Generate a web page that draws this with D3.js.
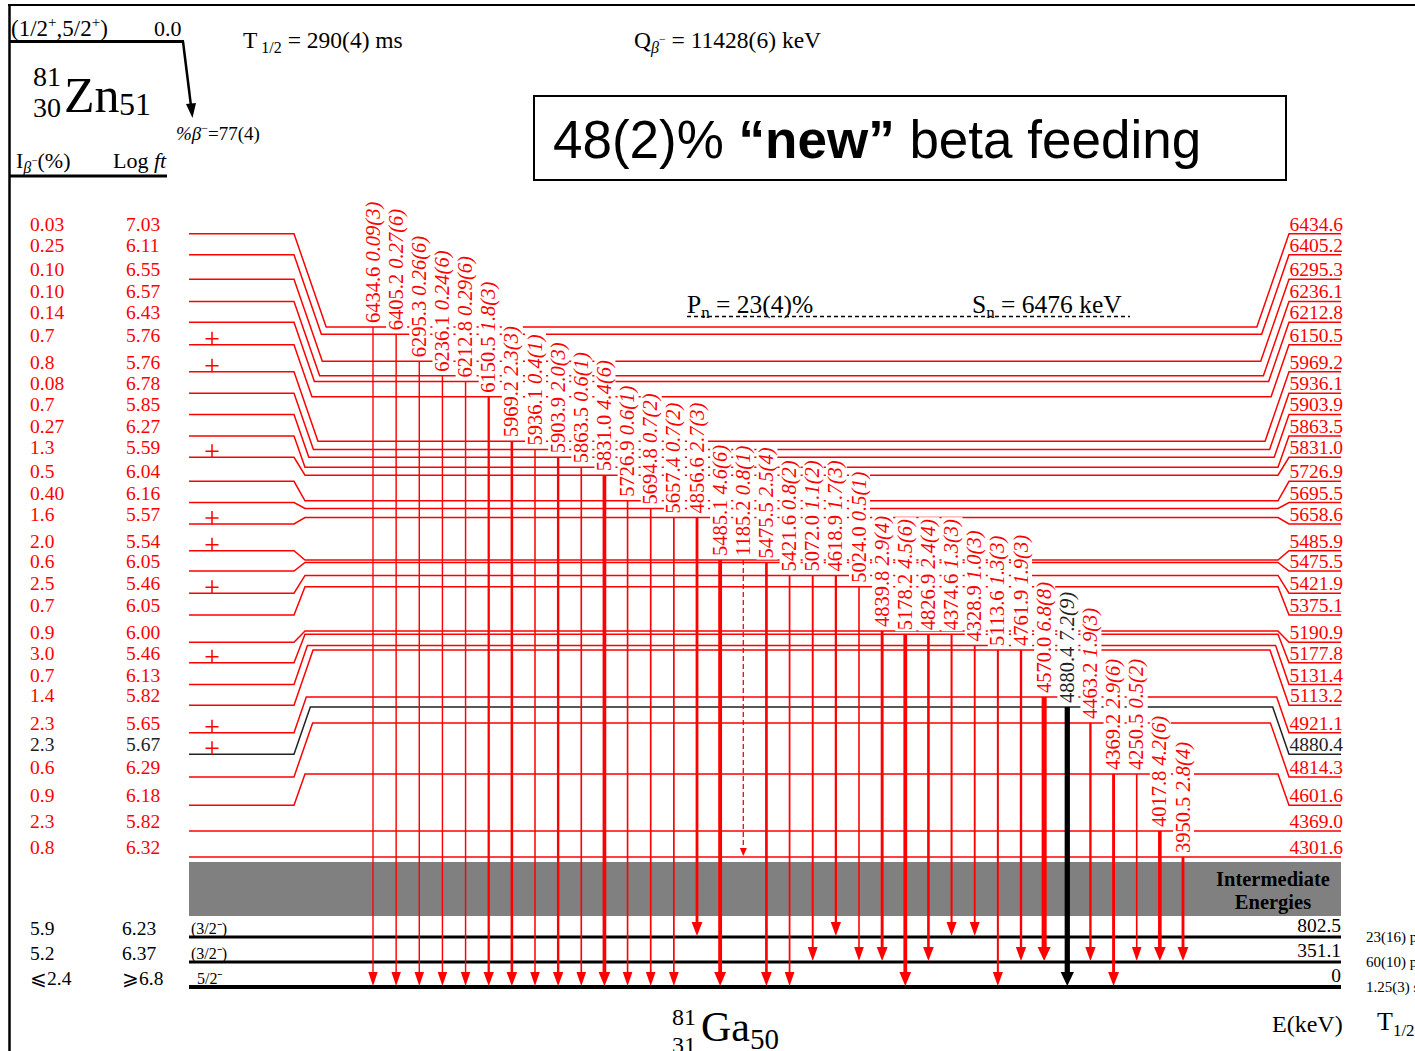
<!DOCTYPE html>
<html>
<head>
<meta charset="utf-8">
<script src="https://cdn.jsdelivr.net/npm/d3@7"></script>
<style>
  body { margin: 0; background: #fff; }
  svg { display: block; font-family: "Liberation Serif", "Times New Roman", serif; }
</style>
</head>
<body>
<script>
// levels fed in 81Ga (keV), top to bottom
const levelE = [6434.6, 6405.2, 6295.3, 6236.1, 6212.8, 6150.5, 5969.2, 5936.1, 5903.9, 5863.5,
  5831.0, 5726.9, 5695.5, 5658.6, 5485.9, 5475.5, 5421.9, 5375.1, 5190.9, 5177.8,
  5131.4, 5113.2, 4921.1, 4880.4, 4814.3, 4601.6, 4369.0, 4301.6];
const iBeta = ['0.03','0.25','0.10','0.10','0.14','0.7','0.8','0.08','0.7','0.27','1.3','0.5','0.40','1.6',
  '2.0','0.6','2.5','0.7','0.9','3.0','0.7','1.4','2.3','2.3','0.6','0.9','2.3','0.8'];
const logFt = ['7.03','6.11','6.55','6.57','6.43','5.76','5.76','6.78','5.85','6.27','5.59','6.04','6.16','5.57',
  '5.54','6.05','5.46','6.05','6.00','5.46','6.13','5.82','5.65','5.67','6.29','6.18','5.82','6.32'];
const plusLevels = [6150.5, 5969.2, 5831.0, 5658.6, 5485.9, 5421.9, 5177.8, 4921.1, 4880.4];
const blackLevel = 4880.4;

const lowE = [802.5, 351.1, 0];
const lowLabel = ['802.5', '351.1', '0'];
const lowSpin = ['(3/2\u207B)', '(3/2\u207B)', '5/2\u207B'];
const lowIBeta = ['5.9', '5.2', '\u2A7D2.4'];
const lowLogFt = ['6.23', '6.37', '\u2A7E6.8'];
const lowHalf = ['23(16) ps', '60(10) ps', '1.25(3) s'];

// gamma transitions, left to right
const gEnergy = ['6434.6','6405.2','6295.3','6236.1','6212.8','6150.5','5969.2','5936.1','5903.9','5863.5',
  '5831.0','5726.9','5694.8','5657.4','4856.6','5485.1','1185.2','5475.5','5421.6','5072.0','4618.9','5024.0',
  '4839.8','5178.2','4826.9','4374.6','4328.9','5113.6','4761.9','4570.0','4880.4','4463.2','4369.2','4250.5',
  '4017.8','3950.5'];
const gInt = ['0.09(3)','0.27(6)','0.26(6)','0.24(6)','0.29(6)','1.8(3)','2.3(3)','0.4(1)','2.0(3)','0.6(1)',
  '4.4(6)','0.6(1)','0.7(2)','0.7(2)','2.7(3)','4.6(6)','0.8(1)','2.5(4)','0.8(2)','1.1(2)','1.7(3)','0.5(1)',
  '2.9(4)','4.5(6)','2.4(4)','1.3(3)','1.0(3)','1.3(3)','1.9(3)','6.8(8)','7.2(9)','1.9(3)','2.9(6)','0.5(2)',
  '4.2(6)','2.8(4)'];
const gFrom = [6434.6,6405.2,6295.3,6236.1,6212.8,6150.5,5969.2,5936.1,5903.9,5863.5,5831.0,5726.9,5695.5,
  5658.6,5658.6,5485.9,5485.9,5475.5,5421.9,5421.9,5421.9,5375.1,5190.9,5177.8,5177.8,5177.8,5131.4,5113.2,
  5113.2,4921.1,4880.4,4814.3,4601.6,4601.6,4369.0,4301.6];
const gTo = [0,0,0,0,0,0,0,0,0,0,0,0,0,0,802.5,0,4301.6,0,0,351.1,802.5,351.1,351.1,0,351.1,802.5,802.5,0,
  351.1,351.1,0,351.1,0,351.1,351.1,351.1];
const gDashed = ['1185.2'];

const W = 1415, H = 1051;
const RED = '#ff0000';
const svg = d3.select('body').append('svg').attr('width', W).attr('height', H);

// energy -> vertical position in the drawing area (not to scale, like the original)
const y = d3.scaleLinear()
  .domain([0, 351.1, 802.5, 4301.6, 4369.0, 4601.6, 4880.4, 5190.9, 5485.9, 6434.6])
  .range([987, 962, 937, 857, 831, 774, 707, 631, 560, 327]);
const xg = d3.scalePoint().domain(d3.range(gEnergy.length)).range([373, 1183]);
// label rows on the sides
const rowY = i => 233.7 + i * 20 + (levelE[0] - levelE[i]) * 0.039;

// frame
svg.append('line').attr('x1', 9.5).attr('y1', 4).attr('x2', 9.5).attr('y2', H)
  .attr('stroke', '#000').attr('stroke-width', 2.5);
svg.append('line').attr('x1', 8).attr('y1', 5).attr('x2', W).attr('y2', 5)
  .attr('stroke', '#000').attr('stroke-width', 2);

// parent
svg.append('line').attr('x1', 10).attr('y1', 41.5).attr('x2', 184).attr('y2', 41.5)
  .attr('stroke', '#000').attr('stroke-width', 3);
svg.append('line').attr('x1', 183).attr('y1', 41.5).attr('x2', 191).attr('y2', 106)
  .attr('stroke', '#000').attr('stroke-width', 2.5);
svg.append('path').attr('d', 'M186,104 L196,103 L192.5,118 Z').attr('fill', '#000');
const t1 = svg.append('text').attr('x', 11).attr('y', 36).attr('font-size', 23);
t1.append('tspan').text('(1/2');
t1.append('tspan').attr('font-size', 15).attr('dy', -9).text('+');
t1.append('tspan').attr('dy', 9).text(',5/2');
t1.append('tspan').attr('font-size', 15).attr('dy', -9).text('+');
t1.append('tspan').attr('dy', 9).text(')');
svg.append('text').attr('x', 154).attr('y', 36).attr('font-size', 22).text('0.0');

svg.append('text').attr('x', 33).attr('y', 86).attr('font-size', 28).text('81');
svg.append('text').attr('x', 33).attr('y', 117).attr('font-size', 28).text('30');
svg.append('text').attr('x', 64).attr('y', 112).attr('font-size', 50).text('Zn');
svg.append('text').attr('x', 119).attr('y', 115).attr('font-size', 32).text('51');

const pb = svg.append('text').attr('x', 176).attr('y', 140).attr('font-size', 19);
pb.append('tspan').attr('font-style', 'italic').text('%\u03B2');
pb.append('tspan').attr('font-size', 12).attr('dy', -8).text('\u2212');
pb.append('tspan').attr('dy', 8).text('=77(4)');

const ib = svg.append('text').attr('x', 16).attr('y', 168).attr('font-size', 22);
ib.append('tspan').text('I');
ib.append('tspan').attr('font-size', 16).attr('dy', 5).attr('font-style', 'italic').text('\u03B2');
ib.append('tspan').attr('font-size', 11).attr('dy', -9).text('\u2212');
ib.append('tspan').attr('dy', 4).text('(%)');
const lf = svg.append('text').attr('x', 113).attr('y', 168).attr('font-size', 22);
lf.append('tspan').text('Log');
lf.append('tspan').attr('font-style', 'italic').text(' ft');
svg.append('line').attr('x1', 10).attr('y1', 176).attr('x2', 167).attr('y2', 176)
  .attr('stroke', '#000').attr('stroke-width', 3);

const th = svg.append('text').attr('x', 243).attr('y', 48).attr('font-size', 23.5);
th.append('tspan').text('T');
th.append('tspan').attr('font-size', 16).attr('dy', 5).text(' 1/2');
th.append('tspan').attr('dy', -5).text(' = 290(4) ms');
const qb = svg.append('text').attr('x', 634).attr('y', 48).attr('font-size', 23.5);
qb.append('tspan').text('Q');
qb.append('tspan').attr('font-size', 16).attr('dy', 5).attr('font-style', 'italic').text('\u03B2');
qb.append('tspan').attr('font-size', 12).attr('dy', -10).text('\u2212');
qb.append('tspan').attr('dy', 5).text('  = 11428(6) keV');

// note box
svg.append('rect').attr('x', 534).attr('y', 96).attr('width', 752).attr('height', 84)
  .attr('fill', 'none').attr('stroke', '#000').attr('stroke-width', 2);
const nb = svg.append('text').attr('x', 553).attr('y', 158).attr('font-size', 53)
  .attr('font-family', '"Liberation Sans", Arial, sans-serif');
nb.append('tspan').text('48(2)% ');
nb.append('tspan').attr('font-weight', 'bold').text('\u201Cnew\u201D');
nb.append('tspan').text(' beta feeding');

// Pn / Sn
svg.append('line').attr('x1', 687).attr('y1', 316.5).attr('x2', 1130).attr('y2', 316.5)
  .attr('stroke', '#000').attr('stroke-width', 1.5).attr('stroke-dasharray', '4,3');
const pn = svg.append('text').attr('x', 687).attr('y', 313).attr('font-size', 25.5);
pn.append('tspan').text('P');
pn.append('tspan').attr('font-size', 17).attr('dy', 5).text('n');
pn.append('tspan').attr('dy', -5).text(' = 23(4)%');
const sn = svg.append('text').attr('x', 972).attr('y', 313).attr('font-size', 25.5);
sn.append('tspan').text('S');
sn.append('tspan').attr('font-size', 17).attr('dy', 5).text('n');
sn.append('tspan').attr('dy', -5).text(' = 6476 keV');

// intermediate energies band
svg.append('rect').attr('x', 189).attr('y', 862).attr('width', 1152).attr('height', 54).attr('fill', '#808080');
svg.append('text').attr('x', 1273).attr('y', 886).attr('text-anchor', 'middle')
  .attr('font-size', 20.5).attr('font-weight', 'bold').text('Intermediate');
svg.append('text').attr('x', 1273).attr('y', 909).attr('text-anchor', 'middle')
  .attr('font-size', 20.5).attr('font-weight', 'bold').text('Energies');

// high levels with bent connectors
levelE.forEach((e, i) => {
  const my = y(e);
  let ly = rowY(i);
  if (Math.abs(my - ly) < 4) ly = my;
  const col = e === blackLevel ? '#222' : RED;
  const dy = my - ly;
  const dx = dy === 0 ? 0 : Math.max(11, Math.abs(dy) / 2.9);
  const d = dx === 0
    ? `M189,${my} H1341`
    : `M189,${ly} H294 L${294 + dx},${my} H${1289 - dx} L1289,${ly} H1341`;
  svg.append('path').attr('d', d).attr('fill', 'none').attr('stroke', col).attr('stroke-width', 1.5);
  svg.append('text').attr('x', 30).attr('y', ly - 3).attr('font-size', 19.5).attr('fill', col).text(iBeta[i]);
  svg.append('text').attr('x', 126).attr('y', ly - 3).attr('font-size', 19.5).attr('fill', col).text(logFt[i]);
  svg.append('text').attr('x', 1343).attr('y', ly - 3).attr('font-size', 19.5).attr('fill', col)
    .attr('text-anchor', 'end').text(e.toFixed(1));
  if (plusLevels.includes(e)) {
    svg.append('path').attr('d', `M205.5,${ly - 6} H218.5 M212,${ly - 13} V${ly + 0.5}`)
      .attr('stroke', RED).attr('stroke-width', 1.5);
  }
});

// low levels
lowE.forEach((e, i) => {
  const ly = y(e);
  svg.append('line').attr('x1', 189).attr('y1', ly).attr('x2', 1341).attr('y2', ly)
    .attr('stroke', '#000').attr('stroke-width', e === 0 ? 4 : 3);
  svg.append('text').attr('x', 1341).attr('y', ly - 5).attr('font-size', 19.5)
    .attr('text-anchor', 'end').text(lowLabel[i]);
  svg.append('text').attr('x', i === 2 ? 197 : 191).attr('y', ly - 3).attr('font-size', 16).text(lowSpin[i]);
  svg.append('text').attr('x', 30).attr('y', ly - 2).attr('font-size', 19.5).text(lowIBeta[i]);
  svg.append('text').attr('x', 122).attr('y', ly - 2).attr('font-size', 19.5).text(lowLogFt[i]);
  svg.append('text').attr('x', 1366).attr('y', ly + 5).attr('font-size', 15).text(lowHalf[i]);
});

// gamma labels (white boxes hide level lines behind them)
gEnergy.forEach((g, i) => {
  const x = xg(i), y0 = y(gFrom[i]);
  const col = gFrom[i] === blackLevel ? '#222' : RED;
  const grp = svg.append('g').attr('transform', `translate(${x + 6.5},${y0 - 4}) rotate(-90)`);
  const box = grp.append('rect').attr('fill', '#fff');
  const t = grp.append('text').attr('x', 0).attr('y', 0).attr('font-size', 20.5).attr('fill', col);
  t.append('tspan').text(g + ' ');
  t.append('tspan').attr('font-style', 'italic').text(gInt[i]);
  const len = t.node().getComputedTextLength();
  box.attr('x', -1).attr('y', -16.5).attr('width', len + 3).attr('height', 21);
});

// gamma arrows
gEnergy.forEach((g, i) => {
  const x = xg(i), y0 = y(gFrom[i]), y1 = y(gTo[i]);
  const col = gFrom[i] === blackLevel ? '#000' : RED;
  const w = 1.3 + 0.55 * parseFloat(gInt[i]);
  const dashed = gDashed.includes(g);
  const hw = dashed ? 3.5 : 4 + w / 2;
  const hl = dashed ? 9 : 15;
  svg.append('line').attr('x1', x).attr('y1', y0).attr('x2', x).attr('y2', y1 - hl + 2)
    .attr('stroke', col).attr('stroke-width', dashed ? 1.3 : w)
    .attr('stroke-dasharray', dashed ? '5,3' : null);
  svg.append('path').attr('d', `M${x - hw},${y1 - hl} L${x + hw},${y1 - hl} L${x},${y1 - 1} Z`).attr('fill', col);
});

// daughter
svg.append('text').attr('x', 672).attr('y', 1025).attr('font-size', 24).text('81');
svg.append('text').attr('x', 672).attr('y', 1053).attr('font-size', 24).text('31');
svg.append('text').attr('x', 701).attr('y', 1041).attr('font-size', 42).text('Ga');
svg.append('text').attr('x', 750).attr('y', 1049).attr('font-size', 29).text('50');

svg.append('text').attr('x', 1272).attr('y', 1032).attr('font-size', 24).text('E(keV)');
const tb = svg.append('text').attr('x', 1377).attr('y', 1030).attr('font-size', 26);
tb.append('tspan').text('T');
tb.append('tspan').attr('font-size', 17).attr('dy', 6).text('1/2');
</script>
</body>
</html>
